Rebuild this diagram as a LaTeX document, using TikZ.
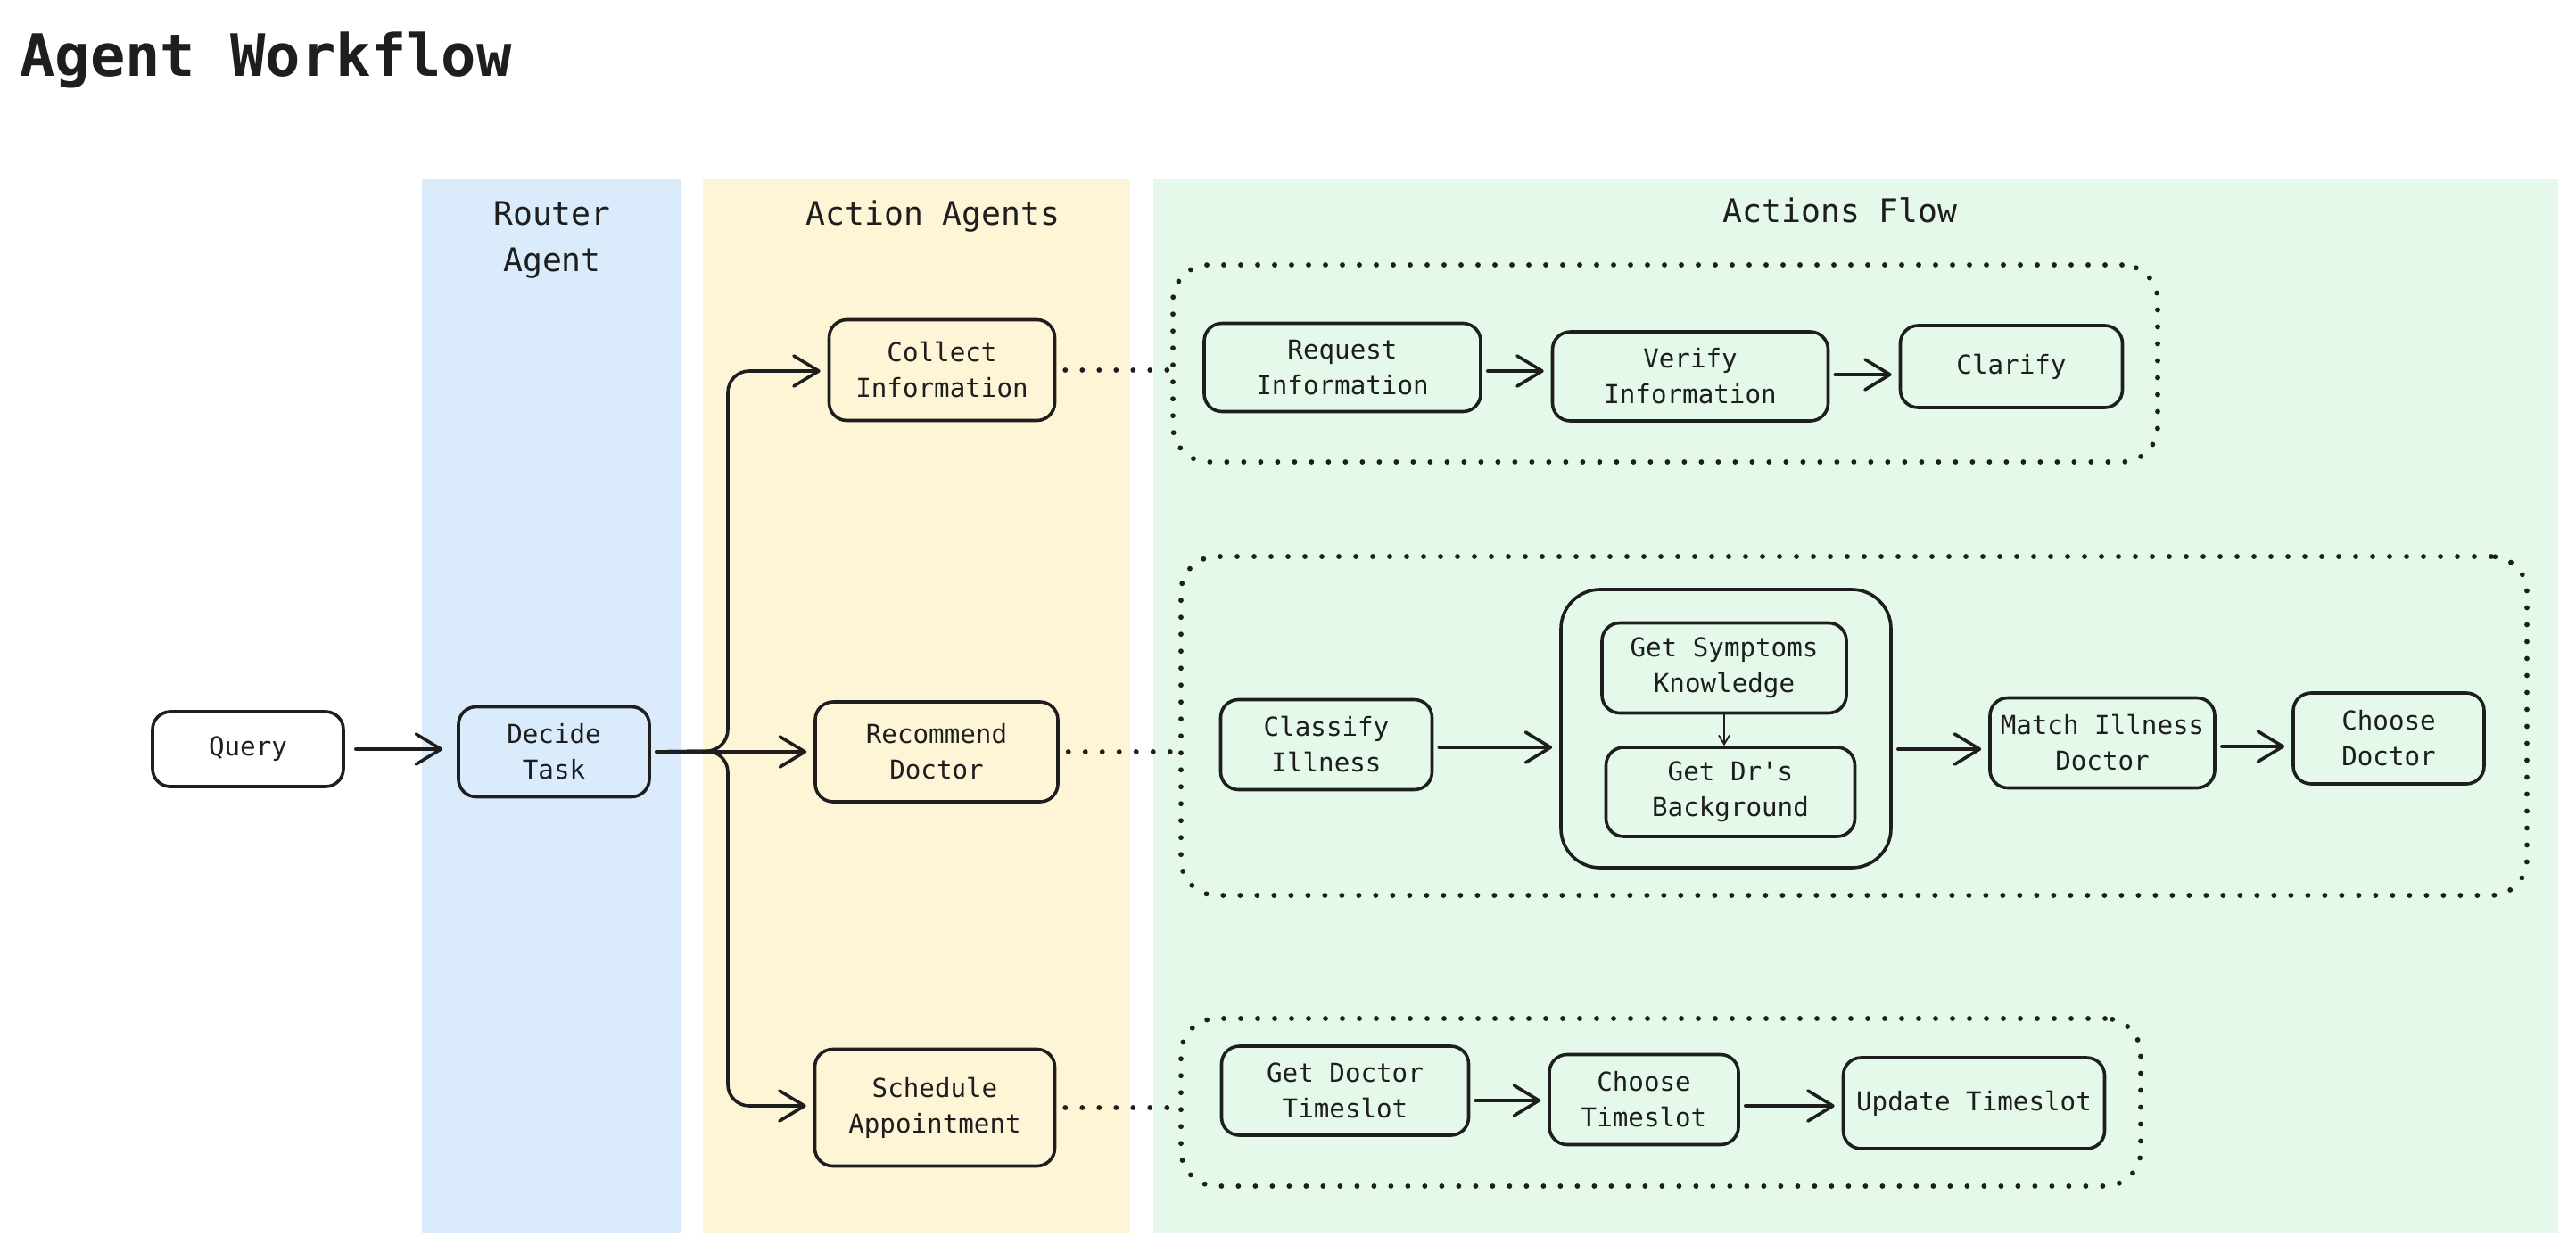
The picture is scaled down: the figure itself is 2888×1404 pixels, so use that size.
\documentclass[tikz,border=0pt]{standalone}
\usepackage{fontspec}
\newfontfamily\handfont{DejaVu Sans Mono}
\usetikzlibrary{arrows.meta}
\definecolor{ink}{HTML}{1E1E1E}
\definecolor{laneblue}{HTML}{DAECFC}
\definecolor{laneyellow}{HTML}{FEF5D7}
\definecolor{lanegreen}{HTML}{E5F9EA}
\tikzset{
  box/.style={draw=ink, line width=1.8pt, rounded corners=10pt, align=center, inner sep=2pt,
    font=\handfont\fontsize{14.6}{20}\selectfont, text=ink},
  lane/.style={fill=#1, draw=none, inner sep=0pt},
  lanetitle/.style={font=\handfont\fontsize{18.2}{25.8}\selectfont, text=ink, align=center},
  grp/.style={draw=ink, line width=2.9pt, dash pattern=on 0pt off 9.5pt, line cap=round,
    rounded corners=20pt, inner sep=0pt},
  arr/.style={draw=ink, line width=1.8pt, line cap=round,
    -{Straight Barb[round,length=14pt,width=17pt]}, shorten <=3pt, shorten >=4pt},
  thinarr/.style={draw=ink, line width=0.9pt, -{Straight Barb[length=5pt,width=6pt]}},
  dotlink/.style={draw=ink, line width=2.9pt, dash pattern=on 0pt off 9.5pt, line cap=round}
}
\begin{document}
\begin{tikzpicture}[x=0.5pt,y=-0.5pt]
\useasboundingbox[fill=white] (0,0) rectangle (2888,1404);

% title
\node[anchor=base west, inner sep=0pt, font=\handfont\bfseries\fontsize{32.7}{40}\selectfont, text=ink] (title) at (22,85) {Agent Workflow};

% lanes
\node[lane=laneblue, minimum width=145pt, minimum height=591pt] (laneR) at (618,792) {};
\node[lane=laneyellow, minimum width=239.5pt, minimum height=591pt] (laneA) at (1027.5,792) {};
\node[lane=lanegreen, minimum width=787.5pt, minimum height=591pt] (laneF) at (2080.5,792) {};

\node[lanetitle] (tR) at (619,269) {Router\\Agent};
\node[lanetitle] (tA) at (1046,243) {Action Agents};
\node[lanetitle] (tF) at (2063,236) {Actions Flow};

% groups
\node[grp, minimum width=552pt, minimum height=110.5pt] (g1) at (1867,407.5) {};
\node[grp, minimum width=754.5pt, minimum height=190pt] (g2) at (2078.5,814) {};
\node[grp, minimum width=538pt, minimum height=94pt] (g3) at (1862,1236) {};

% left nodes
\node[box, fill=white, minimum width=107pt, minimum height=42pt] (query) at (278,840) {Query};
\node[box, minimum width=107pt, minimum height=50.5pt] (decide) at (621,843) {Decide\\Task};
\node[box, minimum width=126.5pt, minimum height=56.5pt] (collect) at (1056,415) {Collect\\Information};
\node[box, minimum width=136pt, minimum height=56pt] (recommend) at (1050,843) {Recommend\\Doctor};
\node[box, minimum width=134.5pt, minimum height=65.5pt] (schedule) at (1048,1242) {Schedule\\Appointment};

% group 1
\node[box, minimum width=155pt, minimum height=49.5pt] (request) at (1505,412) {Request\\Information};
\node[box, minimum width=154.5pt, minimum height=50pt] (verify) at (1895,422) {Verify\\Information};
\node[box, minimum width=124.5pt, minimum height=46pt] (clarify) at (2255,411) {Clarify};

% group 2
\node[box, minimum width=118.5pt, minimum height=50.5pt] (classify) at (1487,835) {Classify\\Illness};
\node[box, rounded corners=22pt, minimum width=185pt, minimum height=156pt] (container) at (1935,817) {};
\node[box, minimum width=137pt, minimum height=50.5pt] (symptoms) at (1933,749) {Get Symptoms\\Knowledge};
\node[box, minimum width=139.5pt, minimum height=50pt] (background) at (1940,888) {Get Dr's\\Background};
\node[box, minimum width=126pt, minimum height=50.5pt] (match) at (2357,833) {Match Illness\\Doctor};
\node[box, minimum width=107pt, minimum height=51pt] (choosedoc) at (2678,828) {Choose\\Doctor};

% group 3
\node[box, minimum width=138.5pt, minimum height=50pt] (getts) at (1508,1223) {Get Doctor\\Timeslot};
\node[box, minimum width=106pt, minimum height=50.5pt] (choosets) at (1843,1233) {Choose\\Timeslot};
\node[box, minimum width=146.5pt, minimum height=51pt] (update) at (2213,1237) {Update Timeslot};

% connectors
\draw[arr, shorten <=6pt, shorten >=8pt] (query.east) -- (decide.west |- query.east);
\draw[arr] (decide.east) -- (recommend.west |- decide.east);
\draw[arr, rounded corners=12pt] (decide.east) -- (816,842) -- (816,416) -- (collect.west |- 0,416);
\draw[arr, rounded corners=12pt] (decide.east) -- (816,842) -- (816,1240) -- (schedule.west |- 0,1240);

\draw[dotlink, shorten <=5pt] (collect.east) -- (collect.east -| g1.west);
\draw[dotlink, shorten <=5pt] (recommend.east) -- (recommend.east -| g2.west);
\draw[dotlink, shorten <=5pt] (schedule.east) -- (schedule.east -| g3.west);

\draw[arr] (request.east |- 0,416) -- (verify.west |- 0,416);
\draw[arr] (verify.east |- 0,420) -- (clarify.west |- 0,420);

\draw[arr] (classify.east |- 0,838) -- (container.west |- 0,838);
\draw[thinarr] (symptoms.south) -- (symptoms.south |- background.north);
\draw[arr] (container.east |- 0,840) -- (match.west |- 0,840);
\draw[arr] (match.east |- 0,837) -- (choosedoc.west |- 0,837);

\draw[arr] (getts.east |- 0,1234) -- (choosets.west |- 0,1234);
\draw[arr] (choosets.east |- 0,1240) -- (update.west |- 0,1240);
\end{tikzpicture}
\end{document}
